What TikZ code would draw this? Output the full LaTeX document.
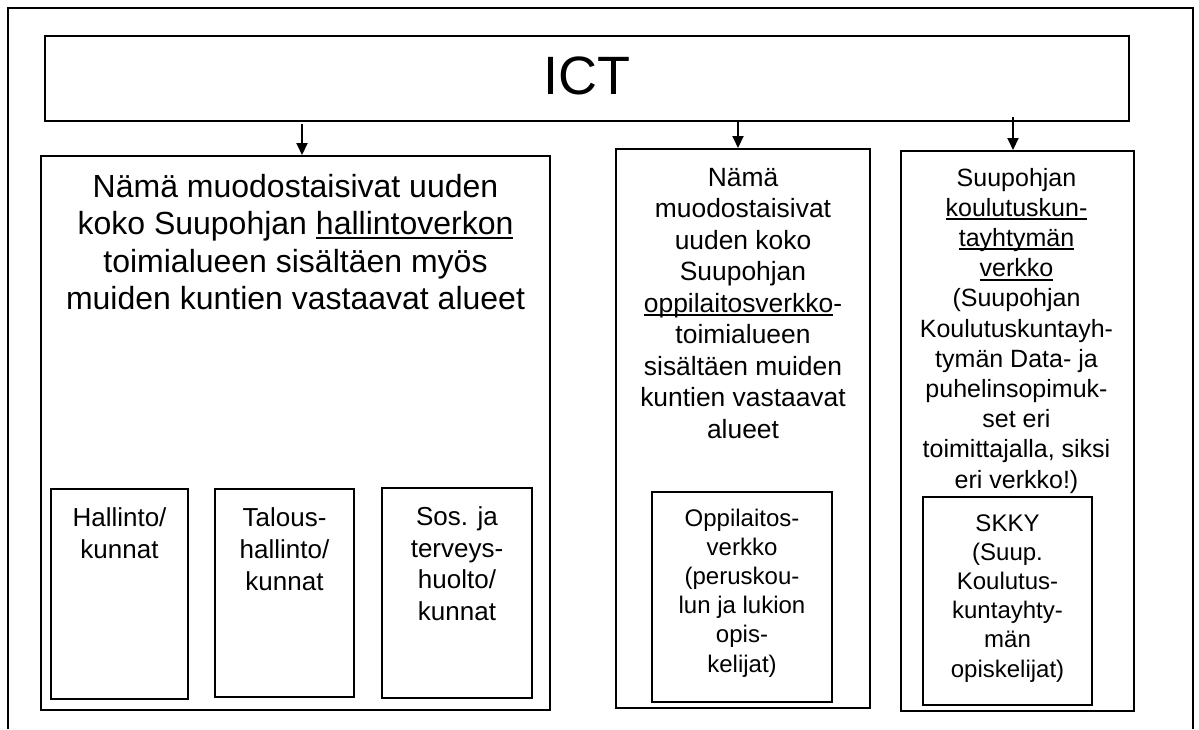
\documentclass[tikz,border=0pt]{standalone}
\usepackage{fontspec}
\setmainfont{Liberation Sans}
\usetikzlibrary{arrows.meta,fit}
\newsavebox\ulbox
\newcommand\myul[1]{\sbox\ulbox{#1}\rlap{\rule[-2pt]{\wd\ulbox}{1pt}}\usebox\ulbox}
\begin{document}
\begin{tikzpicture}[x=0.5pt,y=-0.5pt,
  box/.style={draw,line width=1pt,inner sep=0pt,rectangle},
  txt/.style={inner sep=0pt,align=center,anchor=base},
  fict/.style={font=\fontsize{27pt}{30pt}\selectfont},
  fbig/.style={font=\fontsize{16pt}{18.75pt}\selectfont},
  fmid/.style={font=\fontsize{13.2pt}{15.75pt}\selectfont},
  fthree/.style={font=\fontsize{12.5pt}{15.1pt}\selectfont},
  finner/.style={font=\fontsize{13pt}{15.8pt}\selectfont},
  fsmall/.style={font=\fontsize{12pt}{14.55pt}\selectfont},
  arr/.style={line width=1pt,-{Triangle[width=5.5pt,length=6pt]}}]
\useasboundingbox (0,0) rectangle (1199,729);
% outer frame (open at the bottom)
\draw[line width=1pt] (8,729) -- (8,8) -- (1193,8) -- (1193,729);
% boxes
\node[box,fit={(45,36) (1129,121)}] (ict) {};
\node[box,fit={(41,156) (550,710)}] (b1) {};
\node[box,fit={(616,149) (870,708)}] (b2) {};
\node[box,fit={(901,151) (1134,711)}] (b3) {};
\node[box,fit={(51,489) (188,699)}] (hal) {};
\node[box,fit={(215,489) (354,697)}] (tal) {};
\node[box,fit={(382,488) (532,698)}] (sos) {};
\node[box,fit={(652,492) (832,702)}] (opp) {};
\node[box,fit={(923,497) (1092,705)}] (skky) {};
% texts (anchor = baseline of the last line)
\node[txt,fict] (tict) at (587,94) {ICT};
\node[txt,fbig] (t1) at (295.5,309.5) {Nämä muodostaisivat uuden\\koko Suupohjan \myul{hallintoverkon}\\toimialueen sisältäen myös\\muiden kuntien vastaavat alueet};
\node[txt,fmid] (t2) at (743,438) {Nämä\\muodostaisivat\\uuden koko\\Suupohjan\\\myul{oppilaitosverkko}-\\toimialueen\\sisältäen muiden\\kuntien vastaavat\\alueet};
\node[txt,fthree] (t3) at (1016.5,488) {Suupohjan\\\myul{koulutuskun-}\\\myul{tayhtymän}\\\myul{verkko}\\(Suupohjan\\Koulutuskuntayh-\\tymän Data- ja\\puhelinsopimuk-\\set eri\\toimittajalla, siksi\\eri verkko!)};
\node[txt,finner] (thal) at (119.5,558) {Hallinto/\\kunnat};
\node[txt,finner] (ttal) at (284.5,590) {Talous-\\hallinto/\\kunnat};
\node[txt,finner] (tsos) at (457,620.5) {Sos. ja\\terveys-\\huolto/\\kunnat};
\node[txt,fsmall] (topp) at (742,672) {Oppilaitos-\\verkko\\(peruskou-\\lun ja lukion\\opis-\\kelijat)};
\node[txt,fsmall] (tskky) at (1007.5,677) {SKKY\\(Suup.\\Koulutus-\\kuntayhty-\\män\\opiskelijat)};
% arrows
\coordinate (a1) at (302,124);
\coordinate (a2) at (738,122);
\coordinate (a3) at (1013,117);
\draw[arr] (a1) -- (a1 |- b1.north);
\draw[arr] (a2) -- (a2 |- b2.north);
\draw[arr] (a3) -- (a3 |- b3.north);
\end{tikzpicture}
\end{document}
